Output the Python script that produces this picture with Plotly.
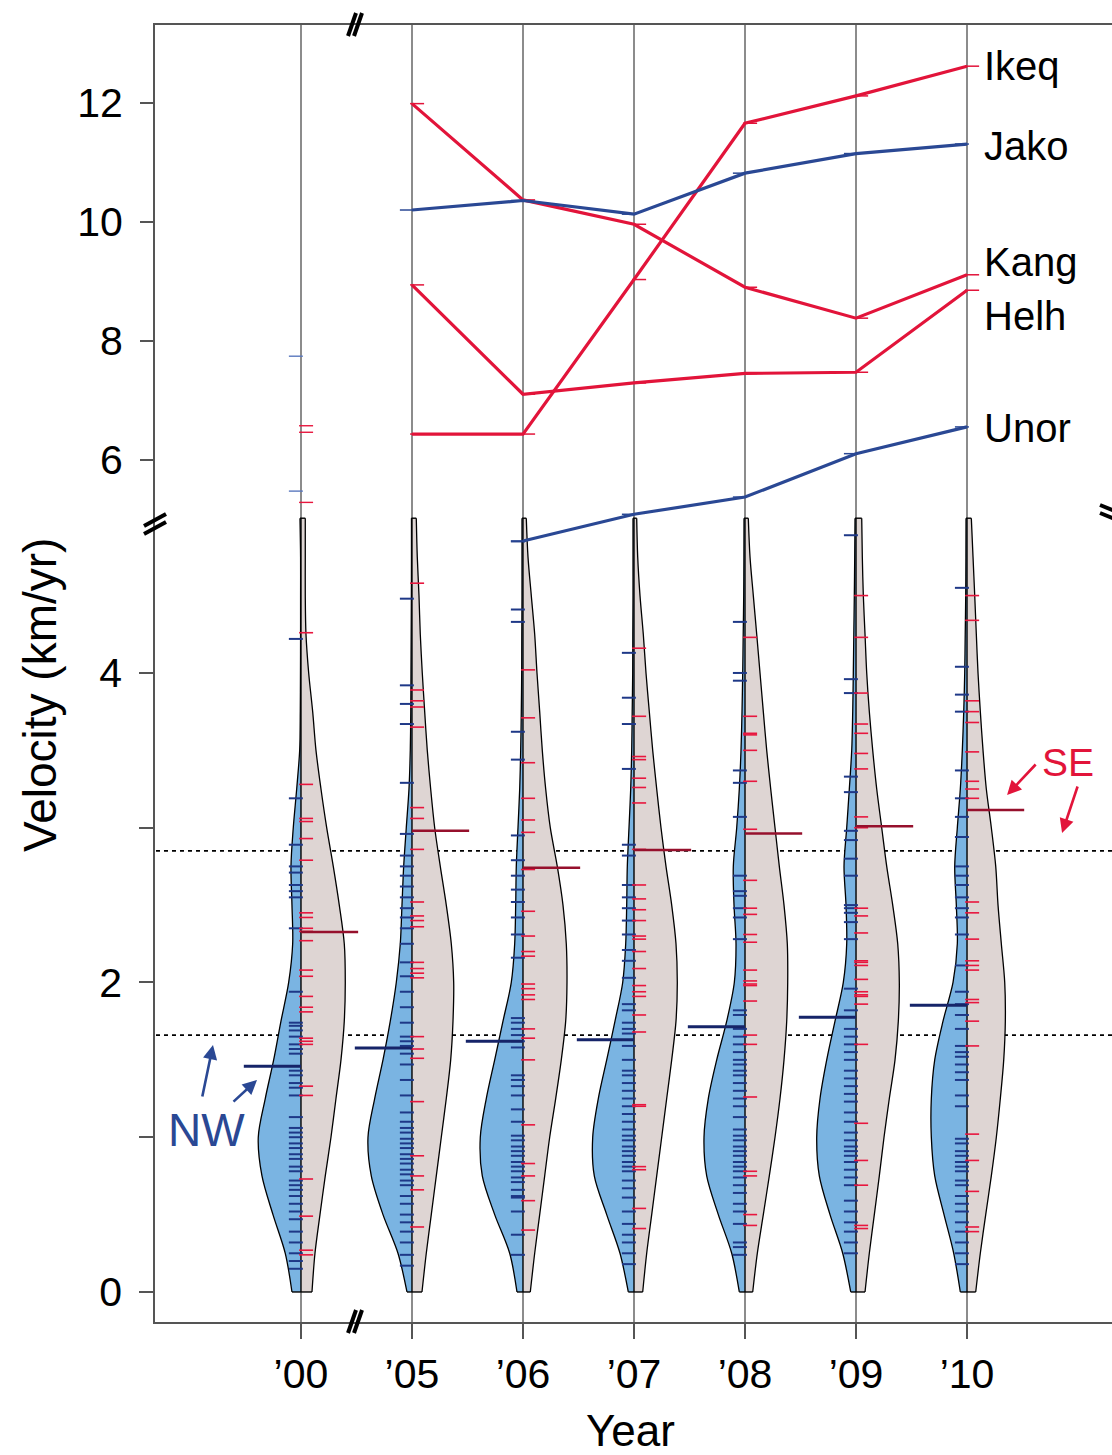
import plotly.graph_objects as go

# ---------------- data ----------------
years = ["\u201900", "\u201905", "\u201906", "\u201907", "\u201908", "\u201909", "\u201910"]
xpos = [1, 2, 3, 4, 5, 6, 7]

# velocity levels at which the bean outlines were read (km/yr)
levels = [0, 0.25, 0.5, 0.75, 1.0, 1.25, 1.5, 1.75, 2.0, 2.25, 2.5,
          2.75, 3.0, 3.25, 3.5, 3.75, 4.0, 4.25, 4.5, 4.75, 5.0]

# bean half-widths (relative density) - NW (left) and SE (right)
nw_dens_00 = [9, 15.7, 28, 39, 42.7, 35.7, 27.3, 20, 12.3, 8.3, 9, 10, 7.7, 4.3, 1.3, 0.7, 0.5, 0.4, 0.4, 0.4, 1]
se_dens_00 = [11, 14, 19, 24.3, 30, 35, 40, 43.3, 44.3, 43.3, 38.3, 32.3, 25.7, 20, 15, 11.7, 7.7, 5, 4.3, 4.3, 4.3]
nw_dens_05 = [5, 14, 29, 40.7, 44, 37.3, 29, 21.7, 15.7, 11.7, 10, 8.3, 5.7, 3, 1.7, 1.2, 1, 0.8, 0.6, 0.5, 0.5]
se_dens_05 = [10, 14.3, 19.3, 24.3, 29.3, 34.3, 38.7, 41, 41.7, 39.3, 34.3, 28.3, 22.7, 18.7, 15.3, 12.7, 10.3, 8.3, 7, 5.3, 4.3]
nw_dens_06 = [6, 13.3, 28.3, 40.7, 42.7, 36.7, 28.3, 20, 11.7, 8.3, 7.3, 6.7, 5, 3.3, 2.3, 1.7, 1.3, 1.2, 1, 1, 1]
se_dens_06 = [7.3, 11.7, 16.7, 21.7, 26.7, 32.7, 38.3, 42.7, 44, 43.3, 40, 34.3, 27.3, 22.7, 19.3, 16.7, 14, 11.7, 8.3, 5, 3.3]
nw_dens_07 = [5.7, 14, 27.3, 39.7, 41.3, 35.7, 27.3, 19, 11.3, 8.3, 7.3, 6.7, 5, 3.3, 2.3, 1.8, 1.3, 1.2, 1, 1, 1]
se_dens_07 = [8.7, 12.7, 17.7, 22.7, 27.7, 32.7, 37.7, 42, 43.3, 42, 37.7, 32, 27, 22.7, 18.7, 15.3, 12, 9.3, 6, 3.7, 2.7]
nw_dens_08 = [5.7, 13.3, 26.7, 38.3, 41, 36.7, 28.3, 18.3, 10.7, 9, 11, 11.7, 8.3, 5.7, 4, 3, 2.3, 1.8, 1.3, 1.1, 1]
se_dens_08 = [7.7, 12.3, 18.3, 24.3, 30, 35, 39, 41.7, 42.7, 42.3, 39, 34.3, 30, 25.7, 21.7, 18.3, 15, 11.7, 8.3, 5, 3.3]
nw_dens_09 = [5.3, 13.3, 26, 36.7, 39.3, 36, 29.3, 21, 12.7, 9.3, 10, 12, 9.3, 6.7, 4.3, 3.3, 2.7, 2.2, 1.7, 1.3, 1]
se_dens_09 = [9, 13.3, 18.3, 23.3, 28, 33.3, 39, 42.3, 43.3, 41.7, 36.7, 30.7, 25.7, 20.7, 16.7, 13.3, 10.7, 9, 7.3, 6.3, 5.7]
nw_dens_10 = [6.7, 13.3, 23, 32.3, 35.7, 35.7, 32.3, 24, 14, 9.7, 10.7, 12.3, 9.7, 6.7, 4.7, 3.3, 2.3, 1.8, 1.3, 1.1, 1]
se_dens_10 = [8.7, 13.3, 18.7, 24.3, 29.3, 33.3, 36.7, 38.3, 37.7, 34.3, 31, 28.7, 24.3, 19.3, 16, 13.3, 11, 9.3, 7.7, 6, 4.3]

# individual glacier velocities (rug ticks), km/yr
nw_rug_00 = [4.22, 3.19, 2.89, 2.75, 2.71, 2.63, 2.59, 2.55, 2.35, 1.94, 1.74, 1.72, 1.69, 1.65, 1.60, 1.57, 1.54,
             1.43, 1.40, 1.35, 1.32, 1.27, 1.13, 1.06, 1.03, 1.0, 0.96, 0.93, 0.89, 0.86, 0.81, 0.78, 0.72, 0.69,
             0.66, 0.62, 0.57, 0.52, 0.47, 0.39, 0.32, 0.25, 0.20, 0.15]
se_rug_00 = [4.26, 3.28, 3.06, 3.04, 2.93, 2.79, 2.45, 2.42, 2.35, 2.33, 2.27, 2.08, 2.04, 1.91, 1.84, 1.81, 1.64,
             1.62, 1.60, 1.33, 1.27, 0.73, 0.49, 0.27, 0.24]
nw_rug_05 = [4.48, 3.92, 3.80, 3.67, 3.29, 2.96, 2.82, 2.75, 2.69, 2.62, 2.55, 2.48, 2.42, 2.35, 2.25, 2.13, 2.04,
             1.94, 1.84, 1.74, 1.65, 1.62, 1.59, 1.54, 1.47, 1.37, 1.27, 1.16, 1.10, 1.06, 1.03, 0.99, 0.96, 0.93,
             0.89, 0.86, 0.83, 0.79, 0.76, 0.72, 0.69, 0.62, 0.57, 0.50, 0.45, 0.39, 0.32, 0.24, 0.17]
se_rug_05 = [4.58, 3.89, 3.82, 3.78, 3.65, 3.13, 3.06, 2.86, 2.52, 2.43, 2.40, 2.36, 2.13, 2.09, 2.06, 2.03, 1.65,
             1.57, 1.51, 1.23, 0.88, 0.75, 0.66, 0.42]
nw_rug_06 = [4.85, 4.41, 4.33, 3.62, 3.44, 2.95, 2.79, 2.69, 2.60, 2.52, 2.42, 2.31, 2.16, 1.77, 1.74, 1.70, 1.66,
             1.62, 1.58, 1.40, 1.37, 1.33, 1.27, 1.18, 1.10, 1.01, 0.98, 0.94, 0.91, 0.88, 0.84, 0.81, 0.78, 0.74,
             0.71, 0.66, 0.62, 0.61, 0.52, 0.37, 0.24]
se_rug_06 = [4.02, 3.71, 3.42, 3.19, 3.05, 2.97, 2.73, 2.46, 2.30, 2.20, 2.17, 1.99, 1.96, 1.92, 1.89, 1.70, 1.64,
             1.50, 1.08, 0.83, 0.75, 0.59, 0.40]
nw_rug_07 = [4.13, 3.84, 3.67, 3.38, 2.89, 2.82, 2.63, 2.55, 2.48, 2.40, 2.31, 2.21, 2.14, 2.03, 1.86, 1.82, 1.74,
             1.70, 1.67, 1.59, 1.50, 1.43, 1.40, 1.35, 1.30, 1.25, 1.20, 1.15, 1.10, 1.05, 1.01, 0.98, 0.94, 0.91,
             0.88, 0.84, 0.81, 0.78, 0.72, 0.67, 0.61, 0.52, 0.44, 0.37, 0.32, 0.25, 0.18]
se_rug_07 = [4.16, 3.72, 3.46, 3.44, 3.32, 3.26, 3.16, 2.86, 2.63, 2.54, 2.47, 2.40, 2.30, 2.28, 2.20, 2.09, 1.98,
             1.94, 1.91, 1.79, 1.68, 1.21, 1.20, 0.81, 0.79, 0.54, 0.41]
nw_rug_08 = [4.33, 4.00, 3.95, 3.37, 3.29, 3.07, 2.69, 2.59, 2.56, 2.48, 2.42, 2.28, 1.82, 1.79, 1.70, 1.65, 1.60,
             1.55, 1.50, 1.47, 1.43, 1.40, 1.35, 1.30, 1.25, 1.20, 1.13, 1.05, 1.01, 0.98, 0.94, 0.91, 0.88, 0.84,
             0.81, 0.78, 0.74, 0.69, 0.64, 0.57, 0.52, 0.44, 0.32, 0.29, 0.24]
se_rug_08 = [4.23, 3.72, 3.61, 3.60, 3.50, 3.30, 2.99, 2.66, 2.48, 2.44, 2.31, 2.26, 2.08, 2.01, 1.99, 1.98, 1.88,
             1.66, 1.60, 1.26, 0.78, 0.75, 0.50, 0.43]
nw_rug_09 = [4.89, 3.96, 3.87, 3.33, 3.23, 2.98, 2.92, 2.80, 2.69, 2.50, 2.48, 2.45, 2.39, 2.28, 1.96, 1.82, 1.70,
             1.65, 1.60, 1.55, 1.50, 1.43, 1.38, 1.33, 1.28, 1.23, 1.16, 1.10, 1.03, 0.98, 0.94, 0.91, 0.88, 0.84,
             0.79, 0.74, 0.69, 0.59, 0.52, 0.45, 0.39, 0.32, 0.25]
se_rug_09 = [4.50, 4.23, 3.87, 3.67, 3.61, 3.48, 3.38, 3.07, 3.00, 2.48, 2.43, 2.32, 2.14, 2.13, 2.11, 2.02, 1.94,
             1.92, 1.91, 1.86, 1.60, 1.09, 0.85, 0.69, 0.43, 0.41]
nw_rug_10 = [4.55, 4.04, 3.86, 3.75, 3.37, 3.19, 3.07, 2.94, 2.75, 2.69, 2.63, 2.55, 2.48, 2.42, 2.31, 2.11, 1.94,
             1.86, 1.79, 1.70, 1.59, 1.55, 1.52, 1.47, 1.42, 1.37, 1.27, 1.20, 0.99, 0.96, 0.91, 0.88, 0.84, 0.81,
             0.78, 0.72, 0.69, 0.62, 0.57, 0.52, 0.45, 0.39, 0.32, 0.25, 0.18]
se_rug_10 = [4.50, 4.34, 3.82, 3.75, 3.68, 3.49, 3.30, 3.25, 3.19, 2.52, 2.45, 2.28, 2.14, 2.11, 2.08, 1.89, 1.87,
             1.75, 1.59, 1.02, 0.85, 0.65, 0.42, 0.39]

# 2000 outliers above the axis break (upper scale)
nw_upper_00 = [7.74, 5.47]
se_upper_00 = [6.57, 6.46, 5.28]

# mean velocity per year
nw_mean = [1.458, 1.577, 1.62, 1.63, 1.714, 1.775, 1.853]
se_mean = [2.326, 2.98, 2.742, 2.856, 2.962, 3.009, 3.114]
overall_means = [2.85, 1.66]

# large glaciers (upper scale), years '05..'10
glacier_x = [2, 3, 4, 5, 6, 7]
ikeq = [6.43, 6.43, 9.03, 11.66, 12.12, 12.62]
jako = [10.20, 10.36, 10.13, 10.82, 11.15, 11.31]
kang = [11.99, 10.37, 9.96, 8.90, 8.38, 9.11]
helh = [8.94, 7.10, 7.29, 7.45, 7.47, 8.85]
unor_x = [3, 4, 5, 6, 7]
unor = [4.63, 5.08, 5.37, 6.10, 6.55]

nw_dens = [nw_dens_00, nw_dens_05, nw_dens_06, nw_dens_07, nw_dens_08, nw_dens_09, nw_dens_10]
se_dens = [se_dens_00, se_dens_05, se_dens_06, se_dens_07, se_dens_08, se_dens_09, se_dens_10]
nw_rugs = [nw_rug_00, nw_rug_05, nw_rug_06, nw_rug_07, nw_rug_08, nw_rug_09, nw_rug_10]
se_rugs = [se_rug_00, se_rug_05, se_rug_06, se_rug_07, se_rug_08, se_rug_09, se_rug_10]

# ---------------- styling ----------------
NW_FILL = "rgb(122,180,226)"
SE_FILL = "rgb(222,213,211)"
NW_RUG = "rgb(30,56,135)"
SE_RUG = "rgb(232,22,62)"
NW_MEAN = "rgb(22,36,105)"
SE_MEAN = "rgb(150,16,44)"
RED = "rgb(226,20,58)"
BLUE = "rgb(42,72,148)"
FONT = "Liberation Sans, Arial, Helvetica, sans-serif"

X_MIN, X_MAX = -0.315, 8.306
Y_MIN, Y_MAX = -0.194, 8.187
Y2_MIN, Y2_MAX = -8.511, 13.313
PX_PER_X = 111.0
DENS_TO_X = 1.0 / PX_PER_X
MEAN_LEN = 0.515
RUG_OFF = 0.046
PLOT_L, PLOT_T, PLOT_R, PLOT_B = 155, 25, 1112, 1322


def paper_x(px):
    return (px - PLOT_L) / (PLOT_R - PLOT_L)


def paper_y(py):
    return (PLOT_B - py) / (PLOT_B - PLOT_T)


def data_x(px):
    return X_MIN + (px - PLOT_L) / PX_PER_X


def data_y(py):
    return Y_MIN + (PLOT_B - py) / (PLOT_B - PLOT_T) * (Y_MAX - Y_MIN)


fig = go.Figure()

# dashed lines of overall means (behind beans)
for m in overall_means:
    fig.add_trace(go.Scatter(x=[X_MIN - 1, X_MAX + 1], y=[m, m], mode="lines",
                             line=dict(color="black", width=1.8, dash="4px,4px"), hoverinfo="skip"))

# beans
for i, c in enumerate(xpos):
    for dens, sign, fillc in ((nw_dens[i], -1, NW_FILL), (se_dens[i], 1, SE_FILL)):
        fig.add_trace(go.Scatter(x=[c] * len(levels), y=levels, mode="lines",
                                 line=dict(width=0, color="rgba(0,0,0,0)"), hoverinfo="skip"))
        fig.add_trace(go.Scatter(x=[c + sign * d * DENS_TO_X for d in dens], y=levels, mode="lines",
                                 line=dict(color="black", width=1.3, shape="spline", smoothing=0.9),
                                 fill="tonextx", fillcolor=fillc, hoverinfo="skip"))
    nw, se = nw_dens[i], se_dens[i]
    fig.add_trace(go.Scatter(
        x=[c - nw[0] * DENS_TO_X, c + se[0] * DENS_TO_X, None,
           c - nw[-1] * DENS_TO_X, c + se[-1] * DENS_TO_X, None, c, c],
        y=[levels[0], levels[0], None, levels[-1], levels[-1], None, levels[0], levels[-1]],
        mode="lines", line=dict(color="black", width=1.4), hoverinfo="skip"))

# rug ticks
rx, ry = [], []
for c, vals in zip(xpos, nw_rugs):
    rx += [c - RUG_OFF] * len(vals)
    ry += vals
fig.add_trace(go.Scatter(x=rx, y=ry, mode="markers",
                         marker=dict(symbol="line-ew", size=10, line=dict(color=NW_RUG, width=2)),
                         hoverinfo="skip"))
rx, ry = [], []
for c, vals in zip(xpos, se_rugs):
    rx += [c + RUG_OFF] * len(vals)
    ry += vals
fig.add_trace(go.Scatter(x=rx, y=ry, mode="markers",
                         marker=dict(symbol="line-ew", size=10, line=dict(color=SE_RUG, width=1.6)),
                         hoverinfo="skip"))
fig.add_trace(go.Scatter(x=[xpos[0] - RUG_OFF] * len(nw_upper_00), y=nw_upper_00, yaxis="y2", mode="markers",
                         marker=dict(symbol="line-ew", size=10, line=dict(color="rgb(90,120,190)", width=1.4)),
                         hoverinfo="skip"))
fig.add_trace(go.Scatter(x=[xpos[0] + RUG_OFF] * len(se_upper_00), y=se_upper_00, yaxis="y2", mode="markers",
                         marker=dict(symbol="line-ew", size=10, line=dict(color=SE_RUG, width=1.4)),
                         hoverinfo="skip"))

# mean lines
mx, my = [], []
for c, m in zip(xpos, nw_mean):
    mx += [c, c - MEAN_LEN, None]
    my += [m, m, None]
fig.add_trace(go.Scatter(x=mx, y=my, mode="lines", line=dict(color=NW_MEAN, width=3), hoverinfo="skip"))
mx, my = [], []
for c, m in zip(xpos, se_mean):
    mx += [c, c + MEAN_LEN, None]
    my += [m, m, None]
fig.add_trace(go.Scatter(x=mx, y=my, mode="lines", line=dict(color=SE_MEAN, width=2.5), hoverinfo="skip"))

# large glaciers (upper scale)
for gx, gy, col, side in ((glacier_x, kang, RED, 1), (glacier_x, helh, RED, 1), (glacier_x, ikeq, RED, 1),
                          (glacier_x, jako, BLUE, -1), (unor_x, unor, BLUE, -1)):
    fig.add_trace(go.Scatter(x=gx, y=gy, yaxis="y2", mode="lines",
                             line=dict(color=col, width=3.2), hoverinfo="skip"))
    fig.add_trace(go.Scatter(x=[v + side * RUG_OFF for v in gx], y=gy, yaxis="y2", mode="markers",
                             marker=dict(symbol="line-ew", size=10, line=dict(color=col, width=1.5)),
                             hoverinfo="skip"))

# ---------------- layout ----------------
tickfont = dict(family=FONT, size=41, color="black")
fig.update_layout(
    width=1112, height=1455,
    margin=dict(l=PLOT_L, r=1112 - PLOT_R, t=PLOT_T, b=1455 - PLOT_B),
    plot_bgcolor="white", paper_bgcolor="white", showlegend=False,
    font=dict(family=FONT, color="black"),
    xaxis=dict(range=[X_MIN, X_MAX], tickvals=xpos, ticktext=years, ticks="outside", ticklen=15,
               tickwidth=1.5, tickcolor="#555", showgrid=True, gridcolor="#8c8c8c", gridwidth=1.6,
               showline=True, mirror=True, linecolor="#555", linewidth=1.6, zeroline=False,
               tickfont=tickfont, ticklabelstandoff=0, fixedrange=True),
    yaxis=dict(range=[Y_MIN, Y_MAX], tickvals=[0, 1, 2, 3, 4], ticktext=["0", "", "2", "", "4"],
               ticks="outside", ticklen=14, tickwidth=1.5, tickcolor="#555", showgrid=False,
               showline=True, linecolor="#555", linewidth=1.6, zeroline=False,
               tickfont=tickfont, ticklabelstandoff=9),
    yaxis2=dict(overlaying="y", side="left", anchor="x", range=[Y2_MIN, Y2_MAX], tickvals=[6, 8, 10, 12],
                ticks="outside", ticklen=14, tickwidth=1.5, tickcolor="#555", showgrid=False,
                showline=False, zeroline=False, tickfont=tickfont, ticklabelstandoff=9),
)

ann = []
ann.append(dict(text="Velocity (km/yr)", xref="paper", yref="paper", x=paper_x(40), y=paper_y(695),
                textangle=-90, showarrow=False, font=dict(family=FONT, size=46, color="black"),
                xanchor="center", yanchor="middle"))
ann.append(dict(text="Year", xref="paper", yref="paper", x=paper_x(630), y=paper_y(1430),
                showarrow=False, font=dict(family=FONT, size=44, color="black"),
                xanchor="center", yanchor="middle"))
for name, py in (("Ikeq", 66), ("Jako", 146), ("Kang", 262), ("Helh", 316), ("Unor", 428)):
    ann.append(dict(text=name, xref="paper", yref="paper", x=paper_x(982), y=paper_y(py),
                    showarrow=False, font=dict(family=FONT, size=40, color="black"),
                    xanchor="left", yanchor="middle"))
ann.append(dict(text="NW", xref="paper", yref="paper", x=paper_x(206), y=paper_y(1130), showarrow=False,
                font=dict(family=FONT, size=46, color=BLUE), xanchor="center", yanchor="middle"))
ann.append(dict(text="SE", xref="paper", yref="paper", x=paper_x(1068), y=paper_y(763), showarrow=False,
                font=dict(family=FONT, size=39, color=RED), xanchor="center", yanchor="middle"))
for hx, hy, tx, ty, col in ((213, 1045, 202, 1098, BLUE), (257, 1080, 232, 1103, BLUE),
                            (1007, 795, 1037, 763, RED), (1062, 833, 1078, 785, RED)):
    ann.append(dict(text="", x=data_x(hx), y=data_y(hy), xref="x", yref="y", ax=tx - hx, ay=ty - hy,
                    showarrow=True, arrowhead=2, arrowsize=1.1, arrowwidth=2.6, arrowcolor=col))
fig.update_layout(annotations=ann)

# axis-break marks
shapes = []


def brk(xref, xanchor, yref, yanchor, strokes):
    for (x0, y0, x1, y1) in strokes:
        shapes.append(dict(type="line", xref=xref, yref=yref, xsizemode="pixel", ysizemode="pixel",
                           xanchor=xanchor, yanchor=yanchor, x0=x0, y0=y0, x1=x1, y1=y1,
                           line=dict(color="black", width=4), layer="above"))


steep = [(-7, -11, 1, 12), (-1, -11, 7, 12)]
brk("x", data_x(355), "paper", 1, steep)
brk("x", data_x(355), "paper", 0, steep)
brk("paper", 0, "y", data_y(520), [(-11, -6, 11, 6), (-11, -14, 11, -2)])
brk("paper", 1, "y", data_y(515), [(-12, 10, 8, 2), (-12, 2, 8, -6)])
fig.update_layout(shapes=shapes)

fig.write_html("out.html")
